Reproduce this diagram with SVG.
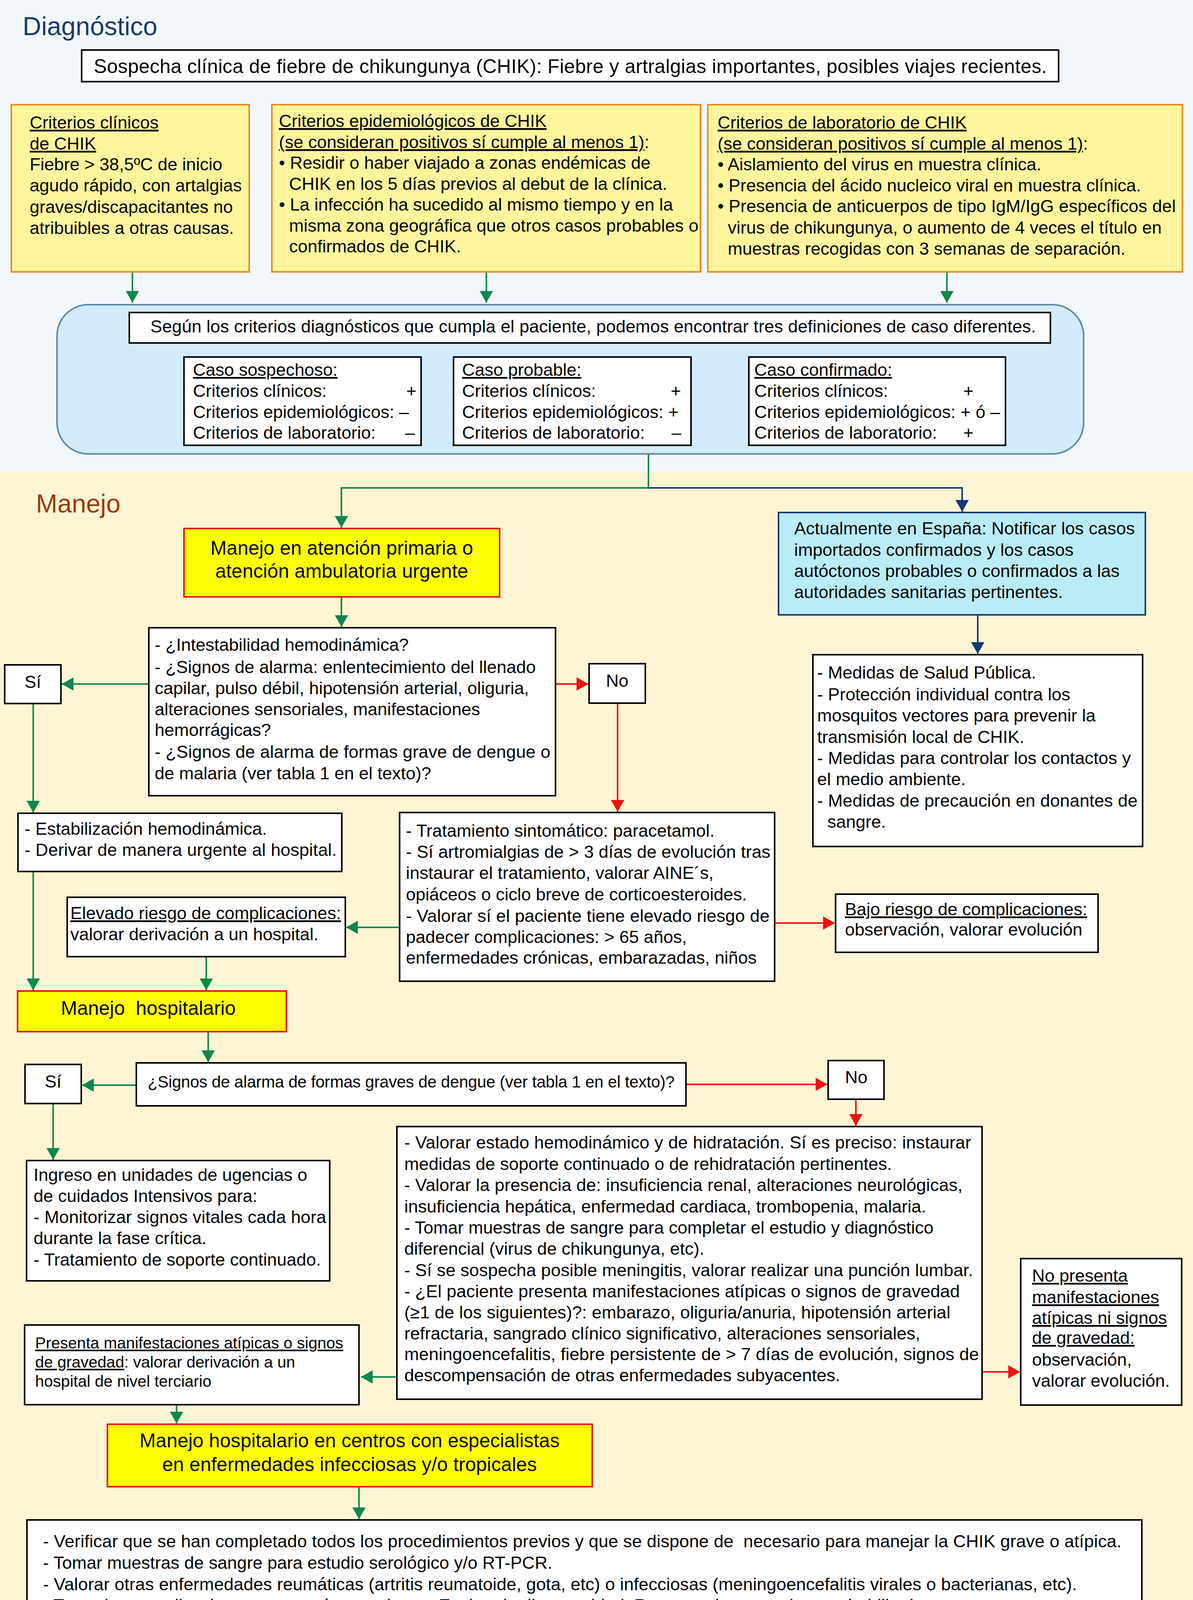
<svg xmlns="http://www.w3.org/2000/svg" width="3054" height="4417" viewBox="0 0 3054 4417">
<style>
text{font-family:"Liberation Sans",Arial,Helvetica,sans-serif;font-size:45px;fill:#000;white-space:pre}
.h{font-size:66px}
.big{font-size:50px}
.sm{font-size:41px}
.u{text-decoration:underline}
.box{fill:#fff;stroke:#000;stroke-width:4}
.ybox{fill:#fff59d;stroke:#e98c1f;stroke-width:4}
.hbox{fill:#ffff00;stroke:#e8141c;stroke-width:4}
.g{fill:none;stroke:#10874d;stroke-width:4;marker-end:url(#ag)}
.r{fill:none;stroke:#ee1111;stroke-width:4;marker-end:url(#ar)}
.b{fill:none;stroke:#123a78;stroke-width:4;marker-end:url(#ab)}
.gl{fill:none;stroke:#10874d;stroke-width:4}
</style>
<defs>
<marker id="ag" viewBox="0 0 30 34" refX="30" refY="17" markerWidth="30" markerHeight="34" markerUnits="userSpaceOnUse" orient="auto"><path d="M0,0 L30,17 L0,34 z" fill="#10874d"/></marker>
<marker id="ar" viewBox="0 0 30 34" refX="30" refY="17" markerWidth="30" markerHeight="34" markerUnits="userSpaceOnUse" orient="auto"><path d="M0,0 L30,17 L0,34 z" fill="#ee1111"/></marker>
<marker id="ab" viewBox="0 0 30 34" refX="30" refY="17" markerWidth="30" markerHeight="34" markerUnits="userSpaceOnUse" orient="auto"><path d="M0,0 L30,17 L0,34 z" fill="#123a78"/></marker>
</defs>
<rect x="0" y="0" width="3054" height="1209" fill="#f2f7fc"/>
<rect x="0" y="1209" width="3054" height="3208" fill="#fdf5d4"/>
<text class="h" x="58" y="90" fill="#1b3a68" style="fill:#1b3a68">Diagnóstico</text>
<text class="h" x="92" y="1312" style="fill:#9b3a10">Manejo</text>

<g id="connectors">
<path class="g" d="M339,697 V775"/>
<path class="g" d="M1245,697 V775"/>
<path class="g" d="M2424,697 V775"/>
<path class="g" d="M1660,1162 V1249 H874 V1351"/>
<path class="b" d="M1660,1249 H2463 V1310"/>
<path class="g" d="M874,1528 V1605"/>
<path class="g" d="M381,1751 H158"/>
<path class="r" d="M1422,1751 H1506"/>
<path class="g" d="M85,1801 V2080"/>
<path class="r" d="M1581,1800 V2078"/>
<path class="g" d="M85,2231 V2535"/>
<path class="g" d="M1023,2374 H886"/>
<path class="g" d="M528,2449 V2535"/>
<path class="r" d="M1983,2363 H2137"/>
<path class="g" d="M533,2641 V2719"/>
<path class="g" d="M349,2778 H210"/>
<path class="r" d="M1756,2776 H2118"/>
<path class="r" d="M2191,2814 V2882"/>
<path class="g" d="M136,2825 V2969"/>
<path class="g" d="M1016,3525 H924"/>
<path class="r" d="M2514,3512 H2611"/>
<path class="g" d="M452,3596 V3644"/>
<path class="g" d="M919,3806 V3889"/>
<path class="b" d="M2503,1574 V1674"/>
</g>

<g id="sospecha">
<rect class="box" x="209" y="128" width="2501" height="81"/>
<text class="big" x="240" y="187" textLength="2440">Sospecha clínica de fiebre de chikungunya (CHIK): Fiebre y artralgias importantes, posibles viajes recientes.</text>
</g>

<g id="crit-clinicos">
<rect class="ybox" x="29" y="268" width="609" height="428"/>
<text x="76" y="329" class="u">Criterios clínicos</text>
<text x="76" y="383" class="u">de CHIK</text>
<text x="76" y="436">Fiebre &gt; 38,5ºC de inicio</text>
<text x="76" y="490">agudo rápido, con artalgias</text>
<text x="76" y="545">graves/discapacitantes no</text>
<text x="76" y="599">atribuibles a otras causas.</text>
</g>

<g id="crit-epi">
<rect class="ybox" x="696" y="268" width="1097" height="428"/>
<text x="714" y="325" class="u">Criterios epidemiológicos de CHIK</text>
<text x="714" y="379"><tspan class="u">(se consideran positivos sí cumple al menos 1)</tspan>:</text>
<text x="714" y="432">• Residir o haber viajado a zonas endémicas de</text>
<text x="740" y="486">CHIK en los 5 días previos al debut de la clínica.</text>
<text x="714" y="539">• La infección ha sucedido al mismo tiempo y en la</text>
<text x="740" y="593" textLength="1048">misma zona geográfica que otros casos probables o</text>
<text x="740" y="646">confirmados de CHIK.</text>
</g>

<g id="crit-lab">
<rect class="ybox" x="1812" y="268" width="1215" height="428"/>
<text x="1837" y="329" class="u">Criterios de laboratorio de CHIK</text>
<text x="1837" y="383"><tspan class="u">(se consideran positivos sí cumple al menos 1)</tspan>:</text>
<text x="1837" y="436">• Aislamiento del virus en muestra clínica.</text>
<text x="1837" y="490">• Presencia del ácido nucleico viral en muestra clínica.</text>
<text x="1837" y="543" textLength="1173">• Presencia de anticuerpos de tipo IgM/IgG específicos del</text>
<text x="1863" y="598">virus de chikungunya, o aumento de 4 veces el título en</text>
<text x="1863" y="652">muestras recogidas con 3 semanas de separación.</text>
</g>

<g id="definiciones">
<rect x="146" y="780" width="2628" height="382" rx="80" ry="80" fill="#d3ebfb" stroke="#5f88a8" stroke-width="4"/>
<rect class="box" x="331" y="800" width="2358" height="78"/>
<text x="385" y="851" textLength="2267">Según los criterios diagnósticos que cumpla el paciente, podemos encontrar tres definiciones de caso diferentes.</text>
</g>

<g id="caso-sospechoso">
<rect class="box" x="471" y="914" width="607" height="226"/>
<text x="494" y="962" class="u">Caso sospechoso:</text>
<text x="494" y="1016">Criterios clínicos:</text><text x="1040" y="1016">+</text>
<text x="494" y="1070">Criterios epidemiológicos: –</text>
<text x="494" y="1123">Criterios de laboratorio:</text><text x="1037" y="1123">–</text>
</g>

<g id="caso-probable">
<rect class="box" x="1161" y="914" width="608" height="226"/>
<text x="1183" y="962" class="u">Caso probable:</text>
<text x="1183" y="1016">Criterios clínicos:</text><text x="1717" y="1016">+</text>
<text x="1183" y="1070">Criterios epidemiológicos: +</text>
<text x="1183" y="1123">Criterios de laboratorio:</text><text x="1719" y="1123">–</text>
</g>

<g id="caso-confirmado">
<rect class="box" x="1917" y="914" width="657" height="226"/>
<text x="1931" y="962" class="u">Caso confirmado:</text>
<text x="1931" y="1016">Criterios clínicos:</text><text x="2466" y="1016">+</text>
<text x="1931" y="1070">Criterios epidemiológicos: + ó –</text>
<text x="1931" y="1123">Criterios de laboratorio:</text><text x="2466" y="1123">+</text>
</g>

<g id="manejo-primaria">
<rect class="hbox" x="471" y="1353" width="808" height="175"/>
<text class="big" x="875" y="1420" text-anchor="middle">Manejo en atención primaria o</text>
<text class="big" x="875" y="1479" text-anchor="middle">atención ambulatoria urgente</text>
</g>

<g id="actualmente">
<rect x="1993" y="1312" width="939" height="262" fill="#b8ecf7" stroke="#1a3a70" stroke-width="4"/>
<text x="2033" y="1368" textLength="872">Actualmente en España: Notificar los casos</text>
<text x="2033" y="1423">importados confirmados y los casos</text>
<text x="2033" y="1477">autóctonos probables o confirmados a las</text>
<text x="2033" y="1531">autoridades sanitarias pertinentes.</text>
</g>

<g id="medidas">
<rect class="box" x="2081" y="1676" width="844" height="491"/>
<text x="2092" y="1737">- Medidas de Salud Pública.</text>
<text x="2092" y="1793">- Protección individual contra los</text>
<text x="2092" y="1847">mosquitos vectores para prevenir la</text>
<text x="2092" y="1902">transmisión local de CHIK.</text>
<text x="2092" y="1956" textLength="803">- Medidas para controlar los contactos y</text>
<text x="2092" y="2010">el medio ambiente.</text>
<text x="2092" y="2065" textLength="820">- Medidas de precaución en donantes de</text>
<text x="2118" y="2119">sangre.</text>
</g>

<g id="pregunta1">
<rect class="box" x="381" y="1607" width="1041" height="430"/>
<text x="396" y="1666">- ¿Intestabilidad hemodinámica?</text>
<text x="396" y="1723">- ¿Signos de alarma: enlentecimiento del llenado</text>
<text x="396" y="1777">capilar, pulso débil, hipotensión arterial, oliguria,</text>
<text x="396" y="1831">alteraciones sensoriales, manifestaciones</text>
<text x="396" y="1884">hemorrágicas?</text>
<text x="396" y="1940" textLength="1013">- ¿Signos de alarma de formas grave de dengue o</text>
<text x="396" y="1995">de malaria (ver tabla 1 en el texto)?</text>
</g>

<g id="si1">
<rect class="box" x="12" y="1702" width="144" height="99"/>
<text x="84" y="1761" text-anchor="middle">Sí</text>
</g>

<g id="no1">
<rect class="box" x="1508" y="1699" width="144" height="101"/>
<text x="1580" y="1758" text-anchor="middle">No</text>
</g>

<g id="estabilizacion">
<rect class="box" x="46" y="2082" width="829" height="149"/>
<text x="63" y="2137">- Estabilización hemodinámica.</text>
<text x="63" y="2191" textLength="799">- Derivar de manera urgente al hospital.</text>
</g>

<g id="tratamiento">
<rect class="box" x="1023" y="2080" width="960" height="432"/>
<text x="1039" y="2142">- Tratamiento sintomático: paracetamol.</text>
<text x="1039" y="2196" textLength="933">- Sí artromialgias de &gt; 3 días de evolución tras</text>
<text x="1039" y="2250">instaurar el tratamiento, valorar AINE´s,</text>
<text x="1039" y="2305">opiáceos o ciclo breve de corticoesteroides.</text>
<text x="1039" y="2360" textLength="931">- Valorar sí el paciente tiene elevado riesgo de</text>
<text x="1039" y="2414">padecer complicaciones: &gt; 65 años,</text>
<text x="1039" y="2467">enfermedades crónicas, embarazadas, niños</text>
</g>

<g id="elevado">
<rect class="box" x="172" y="2297" width="712" height="152"/>
<text x="180" y="2353" class="u">Elevado riesgo de complicaciones:</text>
<text x="180" y="2407">valorar derivación a un hospital.</text>
</g>

<g id="bajo">
<rect class="box" x="2139" y="2289" width="672" height="149"/>
<text x="2163" y="2343" class="u">Bajo riesgo de complicaciones:</text>
<text x="2163" y="2395">observación, valorar evolución</text>
</g>

<g id="manejo-hospitalario">
<rect class="hbox" x="45" y="2537" width="688" height="104"/>
<text class="big" x="156" y="2598">Manejo  hospitalario</text>
</g>

<g id="pregunta2">
<rect class="box" x="349" y="2721" width="1407" height="110"/>
<text x="378" y="2784" style="font-size:42px" textLength="1349">¿Signos de alarma de formas graves de dengue (ver tabla 1 en el texto)?</text>
</g>

<g id="si2">
<rect class="box" x="64" y="2725" width="144" height="100"/>
<text x="136" y="2784" text-anchor="middle">Sí</text>
</g>

<g id="no2">
<rect class="box" x="2120" y="2715" width="143" height="99"/>
<text x="2192" y="2773" text-anchor="middle">No</text>
</g>

<g id="ingreso">
<rect class="box" x="68" y="2971" width="776" height="308"/>
<text x="86" y="3023">Ingreso en unidades de ugencias o</text>
<text x="86" y="3077">de cuidados Intensivos para:</text>
<text x="86" y="3131" textLength="749">- Monitorizar signos vitales cada hora</text>
<text x="86" y="3185">durante la fase crítica.</text>
<text x="86" y="3240">- Tratamiento de soporte continuado.</text>
</g>

<g id="valorar">
<rect class="box" x="1016" y="2884" width="1498" height="698"/>
<text x="1035" y="2940" textLength="1451">- Valorar estado hemodinámico y de hidratación. Sí es preciso: instaurar</text>
<text x="1035" y="2995">medidas de soporte continuado o de rehidratación pertinentes.</text>
<text x="1035" y="3049" textLength="1429">- Valorar la presencia de: insuficiencia renal, alteraciones neurológicas,</text>
<text x="1035" y="3104">insuficiencia hepática, enfermedad cardiaca, trombopenia, malaria.</text>
<text x="1035" y="3158">- Tomar muestras de sangre para completar el estudio y diagnóstico</text>
<text x="1035" y="3212">diferencial (virus de chikungunya, etc).</text>
<text x="1035" y="3267" textLength="1456">- Sí se sospecha posible meningitis, valorar realizar una punción lumbar.</text>
<text x="1035" y="3321" textLength="1422">- ¿El paciente presenta manifestaciones atípicas o signos de gravedad</text>
<text x="1035" y="3375" textLength="1398">(≥1 de los siguientes)?: embarazo, oliguria/anuria, hipotensión arterial</text>
<text x="1035" y="3429">refractaria, sangrado clínico significativo, alteraciones sensoriales,</text>
<text x="1035" y="3482" textLength="1471">meningoencefalitis, fiebre persistente de &gt; 7 días de evolución, signos de</text>
<text x="1035" y="3536">descompensación de otras enfermedades subyacentes.</text>
</g>

<g id="no-presenta">
<rect class="box" x="2613" y="3222" width="412" height="375"/>
<text x="2642" y="3281" class="u">No presenta</text>
<text x="2642" y="3336" class="u">manifestaciones</text>
<text x="2642" y="3389" class="u">atípicas ni signos</text>
<text x="2642" y="3440" class="u">de gravedad:</text>
<text x="2642" y="3496">observación,</text>
<text x="2642" y="3550">valorar evolución.</text>
</g>

<g id="presenta">
<rect class="box" x="63" y="3392" width="856" height="204"/>
<text class="sm" x="90" y="3452"><tspan class="u">Presenta manifestaciones atípicas o signos</tspan></text>
<text class="sm" x="90" y="3501"><tspan class="u">de gravedad</tspan>: valorar derivación a un</text>
<text class="sm" x="90" y="3550">hospital de nivel terciario</text>
</g>

<g id="manejo-especialistas">
<rect class="hbox" x="275" y="3646" width="1241" height="160"/>
<text class="big" x="895" y="3705" text-anchor="middle">Manejo hospitalario en centros con especialistas</text>
<text class="big" x="895" y="3766" text-anchor="middle">en enfermedades infecciosas y/o tropicales</text>
</g>

<g id="final">
<rect class="box" x="69" y="3891" width="2854" height="456"/>
<text x="110" y="3961" textLength="2761">- Verificar que se han completado todos los procedimientos previos y que se dispone de  necesario para manejar la CHIK grave o atípica.</text>
<text x="110" y="4016">- Tomar muestras de sangre para estudio serológico y/o RT-PCR.</text>
<text x="110" y="4071" textLength="2647">- Valorar otras enfermedades reumáticas (artritis reumatoide, gota, etc) o infecciosas (meningoencefalitis virales o bacterianas, etc).</text>
<text x="110" y="4125">- Tratar las complicaciones graves sí apareciesen. Evaluar la discapacidad. Recomendar tratamiento rehabilitador.</text>
<text x="110" y="4180" textLength="2724">- Puede ser preciso optimizar el tratamiento analgésico, aportar asistencia psicológica, y/o  derivar a los pacientes a centros o unidades</text>
<text x="110" y="4235">especializadas en el manejo del dolor crónico.</text>
<text x="110" y="4289">- Valorar la posibilidad de realizar autopsia y estudio anatomo-patológico en todos los pacientes fallecidos.</text>
</g>
</svg>
